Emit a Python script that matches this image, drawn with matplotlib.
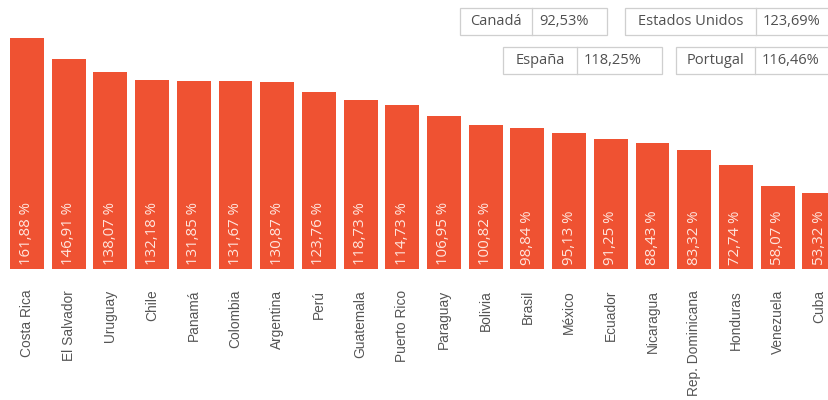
import matplotlib
matplotlib.use("Agg")
import matplotlib.pyplot as plt
from matplotlib.patches import Rectangle
from matplotlib.lines import Line2D

countries = ["Costa Rica", "El Salvador", "Uruguay", "Chile", "Panamá", "Colombia",
             "Argentina", "Perú", "Guatemala", "Puerto Rico", "Paraguay", "Bolivia",
             "Brasil", "México", "Ecuador", "Nicaragua", "Rep. Dominicana", "Honduras",
             "Venezuela", "Cuba"]
values = [161.88, 146.91, 138.07, 132.18, 131.85, 131.67, 130.87, 123.76, 118.73,
          114.73, 106.95, 100.82, 98.84, 95.13, 91.25, 88.43, 83.32, 72.74, 58.07, 53.32]

ref_names = ["Canadá", "Estados Unidos", "España", "Portugal"]
ref_values = [92.53, 123.69, 118.25, 116.46]

BAR = "#EF5232"
W, H = 829, 400


def fmt(v, sep=""):
    return f"{v:.2f}".replace(".", ",") + sep + "%"


fig = plt.figure(figsize=(W / 100, H / 100), dpi=100)
ax = fig.add_axes([0, 131 / H, 1, 269 / H])

x = list(range(len(values)))
ax.bar(x, values, width=0.815, color=BAR, linewidth=0)
ax.set_xlim(-27 / 41.7, (W - 27) / 41.7)
ax.set_ylim(0, 269 / 1.427)

for xi, v in zip(x, values):
    ax.text(xi, 2.8, fmt(v, " "), rotation=90, ha="center", va="bottom",
            color="#FFE6DE", fontsize=10.8, family="Open Sans")

ax.set_xticks(x)
ax.set_xticklabels(countries, rotation=90, va="top", ha="center",
                   fontsize=9.9, color="#555555", family="Liberation Sans")
ax.tick_params(axis="x", length=0, pad=15)
ax.set_yticks([])
for s in ax.spines.values():
    s.set_visible(False)

# reference-country boxes: (left, divider, right, top, bottom) in pixels
boxes = [(460, 532, 607, 8, 35), (625, 756, 860, 8, 35),
         (503, 577, 662, 47, 74), (676, 755, 860, 47, 74)]
edge = "#CFCFCF"
for (l, d, r, t, b), name, val in zip(boxes, ref_names, ref_values):
    fx = lambda px: px / W
    fy = lambda py: 1 - py / H
    fig.patches.append(Rectangle((fx(l), fy(b)), fx(r) - fx(l), fy(t) - fy(b),
                                 transform=fig.transFigure, fill=False,
                                 edgecolor=edge, linewidth=0.9))
    fig.lines.append(Line2D([fx(d), fx(d)], [fy(b), fy(t)],
                            transform=fig.transFigure, color=edge, linewidth=0.9))
    ym = fy((t + b) / 2)
    fig.text(fx((l + d) / 2), ym, name, ha="center", va="center",
             fontsize=10.5, color="#505050", family="Open Sans")
    fig.text(fx(d) + 7 / W, ym, fmt(val), ha="left", va="center",
             fontsize=10.5, color="#505050", family="Open Sans")

fig.savefig("out.png", dpi=100)
